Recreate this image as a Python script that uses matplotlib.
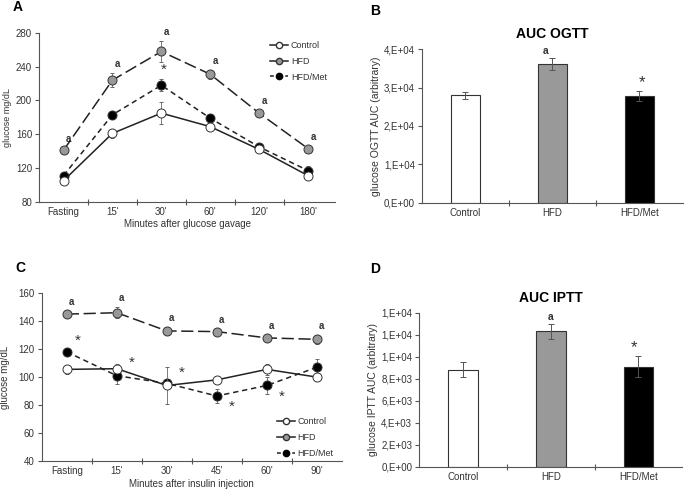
import numpy as np
import matplotlib.pyplot as plt
from matplotlib.lines import Line2D

plt.rcParams['font.family'] = ['Liberation Sans', 'DejaVu Sans']
plt.rcParams['font.size'] = 7

# Painel A: OGTT
ogtt_tempos = ['Fasting', "15'", "30'", "60'", "120'", "180'"]
ogtt_control = [105, 161, 185, 169, 142, 111]
ogtt_control_err = [3, 5, 13, 4, 3, 3]
ogtt_hfd = [141, 224, 258, 231, 185, 143]
ogtt_hfd_err = [3, 8, 12, 5, 4, 3]
ogtt_met = [111, 183, 218, 179, 145, 117]
ogtt_met_err = [3, 5, 7, 5, 3, 5]

# Painel B: AUC OGTT
grupos = ['Control', 'HFD', 'HFD/Met']
auc_ogtt = [2.80e4, 3.61e4, 2.78e4]
auc_ogtt_err = [0.09e4, 0.15e4, 0.13e4]

# Painel C: IPTT
iptt_tempos = ['Fasting', "15'", "30'", "45'", "60'", "90'"]
iptt_control = [105.5, 106, 94, 98, 105.5, 100]
iptt_control_err = [3, 3, 13, 3, 4, 3]
iptt_hfd = [145, 146, 133, 132.5, 128, 127]
iptt_hfd_err = [2, 4, 3, 2, 2, 3]
iptt_met = [118, 101, 95.5, 86.5, 94, 107]
iptt_met_err = [3, 6, 3, 5, 6, 6]

# Painel D: AUC IPTT
auc_iptt = [8840, 12300, 9110]
auc_iptt_err = [660, 670, 960]
auc_iptt_ticks = [0, 2000, 4000, 6000, 8000, 10000, 12000, 14000]
auc_iptt_ticklabels = ['0,E+00', '2,E+03', '4,E+03', '6,E+03', '8,E+03', '1,E+04', '1,E+04', '1,E+04']

fig = plt.figure(figsize=(6.85, 4.91), dpi=100)

cinza = '#999999'
linha = '#222222'


def estilo_eixo(ax):
    for lado in ['top', 'right']:
        ax.spines[lado].set_visible(False)
    for lado in ['left', 'bottom']:
        ax.spines[lado].set_color('#555555')
        ax.spines[lado].set_linewidth(0.8)
    ax.tick_params(axis='y', direction='out', length=3, width=0.8, pad=2, colors='#555555', labelcolor='#333333', labelsize=7)
    ax.tick_params(axis='x', direction='inout', length=4, width=0.8, colors='#555555', labelcolor='#333333', labelsize=7)


def curva(ax, tempos, ctrl, ctrl_e, hfd, hfd_e, met, met_e):
    x = np.arange(len(tempos))
    kw = dict(capsize=1.5, elinewidth=0.6, ecolor='#666666', markersize=6.5, markeredgecolor='#333333',
              markeredgewidth=0.7, lw=1.1, color=linha)
    ax.errorbar(x, hfd, yerr=hfd_e, marker='o', markerfacecolor=cinza, ls=(0, (8, 3)), zorder=3, **kw)
    ax.errorbar(x, met, yerr=met_e, marker='o', markerfacecolor='black', ls=(0, (3.5, 2.5)), zorder=4, **kw)
    ax.errorbar(x, ctrl, yerr=ctrl_e, marker='o', markerfacecolor='white', ls='-', zorder=5, **kw)
    ax.set_xticks(np.arange(len(tempos) - 1) + 0.5)
    ax.set_xticklabels([])
    ax.set_xticks(x, minor=True)
    ax.set_xticklabels(tempos, minor=True)
    ax.tick_params(axis='x', which='minor', length=0, labelsize=7, labelcolor='#333333')
    return x


def legenda(ax, loc, bbox):
    handles = [
        Line2D([], [], color=linha, lw=1.1, marker='o', markersize=4.5, markerfacecolor='white', markeredgecolor='#333333'),
        Line2D([], [], color=linha, lw=1.1, marker='o', markersize=4.5, markerfacecolor=cinza, markeredgecolor='#333333'),
        Line2D([], [], color=linha, lw=1.1, ls=(0, (2.5, 2.5)), marker='o', markersize=4.5, markerfacecolor='black', markeredgecolor='black'),
    ]
    ax.legend(handles, grupos, loc=loc, bbox_to_anchor=bbox, frameon=False, fontsize=6.5,
              handlelength=2.0, handletextpad=0.3, labelspacing=0.75, labelcolor='#333333')


# ---- A ----
axA = fig.add_axes([0.057, 0.589, 0.432, 0.344])
estilo_eixo(axA)
x = curva(axA, ogtt_tempos, ogtt_control, ogtt_control_err, ogtt_hfd, ogtt_hfd_err, ogtt_met, ogtt_met_err)
axA.set_ylim(80, 280)
axA.set_yticks(np.arange(80, 281, 40))
axA.set_xlim(-0.5, 5.55)
axA.set_ylabel('glucose mg/dL', fontsize=6.5, color='#333333')
axA.yaxis.set_label_coords(-0.09, 0.5)
axA.set_xlabel('Minutes after glucose gavage', fontsize=7, color='#333333', labelpad=2)
for xi, yi, ei in zip(x, ogtt_hfd, ogtt_hfd_err):
    axA.text(xi + 0.1, yi + ei + 5, 'a', fontsize=7, fontweight='bold', ha='center', va='bottom', color='#333333')
axA.text(x[2] + 0.05, ogtt_met[2] + ogtt_met_err[2] + 3, '*', fontsize=11, ha='center', va='bottom', color='#333333')
legenda(axA, 'upper right', (1.0, 1.0))
fig.text(0.018, 0.985, 'A', fontsize=10, fontweight='bold', va='center')

# ---- B ----
axB = fig.add_axes([0.616, 0.587, 0.381, 0.313])
estilo_eixo(axB)
xb = np.arange(len(grupos))
axB.bar(xb, auc_ogtt, width=0.34, color=['white', cinza, 'black'], edgecolor='#333333', linewidth=0.8,
        yerr=auc_ogtt_err, error_kw=dict(ecolor='#555555', elinewidth=0.7, capsize=2, capthick=0.7))
axB.set_xlim(-0.5, 2.5)
axB.set_ylim(0, 4e4)
axB.set_yticks([0, 1e4, 2e4, 3e4, 4e4])
axB.set_yticklabels(['0,E+00', '1,E+04', '2,E+04', '3,E+04', '4,E+04'])
axB.set_xticks([0.5, 1.5])
axB.set_xticklabels([])
axB.set_xticks(xb, minor=True)
axB.set_xticklabels(grupos, minor=True)
axB.tick_params(axis='x', which='minor', length=0, labelsize=7, labelcolor='#333333')
axB.set_ylabel('glucose OGTT AUC (arbitrary)', fontsize=7.5, color='#333333', labelpad=2)
axB.set_title('AUC OGTT', fontsize=10, fontweight='bold', pad=8)
axB.text(xb[1] - 0.08, auc_ogtt[1] + auc_ogtt_err[1] + 500, 'a', fontsize=7.5, fontweight='bold', ha='center', va='bottom', color='#333333')
axB.text(xb[2] + 0.03, auc_ogtt[2] + auc_ogtt_err[2] + 300, '*', fontsize=12, ha='center', va='bottom', color='#333333')
fig.text(0.540, 0.978, 'B', fontsize=10, fontweight='bold', va='center')

# ---- C ----
axC = fig.add_axes([0.061, 0.061, 0.438, 0.342])
estilo_eixo(axC)
x = curva(axC, iptt_tempos, iptt_control, iptt_control_err, iptt_hfd, iptt_hfd_err, iptt_met, iptt_met_err)
axC.set_ylim(40, 160)
axC.set_yticks(np.arange(40, 161, 20))
axC.set_xlim(-0.5, 5.5)
axC.set_ylabel('glucose mg/dL', fontsize=7, color='#333333')
axC.yaxis.set_label_coords(-0.107, 0.5)
axC.set_xlabel('Minutes after insulin injection', fontsize=7, color='#333333', labelpad=2)
for xi, yi, ei in zip(x, iptt_hfd, iptt_hfd_err):
    axC.text(xi + 0.1, yi + ei + 3, 'a', fontsize=7, fontweight='bold', ha='center', va='bottom', color='#333333')
estrelas_c = [(x[0] + 0.22, 121), (x[1] + 0.3, 105), (x[2] + 0.3, 98), (x[3] + 0.3, 74), (x[4] + 0.3, 81)]
for xs, ys in estrelas_c:
    axC.text(xs, ys, '*', fontsize=11, ha='center', va='bottom', color='#333333')
legenda(axC, 'lower right', (1.0, -0.03))
fig.text(0.022, 0.455, 'C', fontsize=10, fontweight='bold', va='center')

# ---- D ----
axD = fig.add_axes([0.612, 0.049, 0.384, 0.314])
estilo_eixo(axD)
axD.bar(xb, auc_iptt, width=0.34, color=['white', cinza, 'black'], edgecolor='#333333', linewidth=0.8,
        yerr=auc_iptt_err, error_kw=dict(ecolor='#555555', elinewidth=0.7, capsize=2, capthick=0.7))
axD.set_xlim(-0.5, 2.5)
axD.set_ylim(0, 14000)
axD.set_yticks(auc_iptt_ticks)
axD.set_yticklabels(auc_iptt_ticklabels)
axD.set_xticks([0.5, 1.5])
axD.set_xticklabels([])
axD.set_xticks(xb, minor=True)
axD.set_xticklabels(grupos, minor=True)
axD.tick_params(axis='x', which='minor', length=0, labelsize=7, labelcolor='#333333')
axD.set_ylabel('glucose IPTT AUC (arbitrary)', fontsize=7.5, color='#333333', labelpad=2)
axD.set_title('AUC IPTT', fontsize=10, fontweight='bold', pad=8)
axD.text(xb[1], auc_iptt[1] + auc_iptt_err[1] + 150, 'a', fontsize=7.5, fontweight='bold', ha='center', va='bottom', color='#333333')
axD.text(xb[2] - 0.05, auc_iptt[2] + auc_iptt_err[2] + 100, '*', fontsize=12, ha='center', va='bottom', color='#333333')
fig.text(0.540, 0.452, 'D', fontsize=10, fontweight='bold', va='center')

fig.savefig('out.png', dpi=100)
